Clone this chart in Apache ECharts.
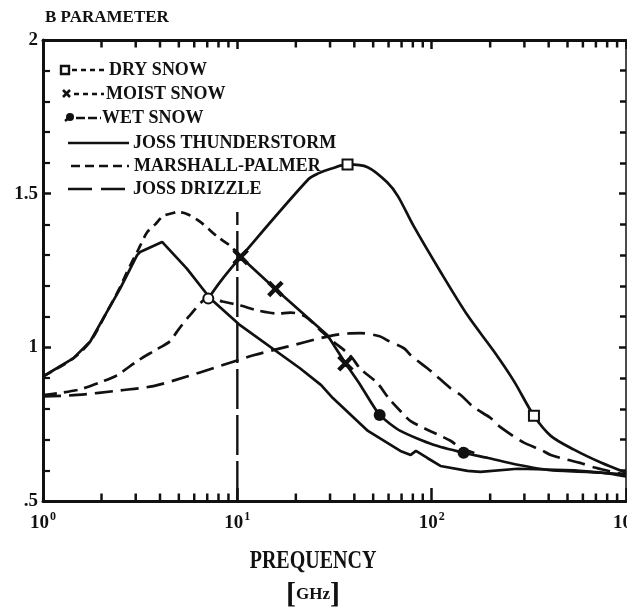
<!DOCTYPE html>
<html>
<head>
<meta charset="utf-8">
<script src="https://cdn.jsdelivr.net/npm/echarts@6/dist/echarts.min.js"></script>
<style>
html,body{margin:0;padding:0;background:#ffffff;}
#chart{width:627px;height:611px;}
</style>
</head>
<body>
<div id="chart"></div>
<script>
// ---------- data ----------
const jtF = [1, 1.43, 1.75, 2.14, 2.49, 3.05, 3.16, 4.1, 5.5, 7.26, 10.2, 21, 27, 31, 47, 69, 78, 83, 95, 111, 153, 178, 277, 540, 1000];
const jtV = [0.905, 0.964, 1.019, 1.117, 1.19, 1.30, 1.31, 1.343, 1.256, 1.159, 1.075, 0.932, 0.877, 0.835, 0.728, 0.663, 0.65, 0.663, 0.64, 0.614, 0.598, 0.595, 0.605, 0.60, 0.586];

const mpF = [1, 1.43, 1.75, 2.14, 2.49, 2.65, 2.87, 3.05, 3.16, 3.44, 3.78, 4.15, 4.67, 4.9, 5.5, 6.45, 7.9, 9.2, 10.4];
const mpV = [0.905, 0.964, 1.019, 1.117, 1.195, 1.233, 1.278, 1.31, 1.33, 1.375, 1.40, 1.427, 1.437, 1.44, 1.434, 1.408, 1.36, 1.33, 1.294];

const jdF = [1, 1.5, 2.5, 3.7, 5.5, 7.5, 12.1, 18.3, 26.8, 31, 37, 43, 54, 59, 72, 78, 95, 102, 125, 141, 164, 201, 218, 262, 298, 364, 410, 500, 580, 680, 840, 1000];
const jdV = [0.84, 0.845, 0.86, 0.874, 0.905, 0.932, 0.974, 1.003, 1.03, 1.039, 1.045, 1.046, 1.036, 1.023, 0.997, 0.974, 0.932, 0.916, 0.867, 0.845, 0.806, 0.77, 0.748, 0.712, 0.69, 0.667, 0.65, 0.634, 0.624, 0.61, 0.596, 0.585];

const riseF = [1, 1.5, 2.04, 2.4, 3.05, 3.69, 4.51, 4.9, 5.7, 7.09, 8.4, 10.4, 12.7, 16.1, 18.8, 22.4, 26.8, 31, 38, 43, 52.5, 60, 69, 78, 98, 125, 141, 178];
const riseV = [0.845, 0.861, 0.89, 0.909, 0.955, 0.987, 1.02, 1.052, 1.104, 1.159, 1.149, 1.136, 1.12, 1.11, 1.113, 1.10, 1.055, 1.02, 0.974, 0.93, 0.884, 0.835, 0.793, 0.76, 0.728, 0.696, 0.673, 0.65];

const dryF = [7.09, 8.18, 10.4, 23.2, 26.1, 30, 36.9, 46.8, 59, 67, 80.7, 111, 153, 209, 265, 336, 410, 540, 742, 1000];
const dryV = [1.159, 1.214, 1.294, 1.547, 1.566, 1.58, 1.595, 1.586, 1.537, 1.492, 1.395, 1.246, 1.104, 0.987, 0.89, 0.777, 0.712, 0.667, 0.625, 0.592];

const moistF = [10.4, 15.7, 29.1, 36];
const moistV = [1.294, 1.19, 1.039, 0.948];

const wetF = [36, 43, 54, 69, 102, 146, 195, 277, 410, 745, 1000];
const wetV = [0.948, 0.877, 0.78, 0.728, 0.683, 0.657, 0.64, 0.618, 0.60, 0.592, 0.58];

const dryMarkF = [36.9, 336];
const dryMarkV = [1.595, 0.777];
const moistMarkF = [10.4, 15.7, 36];
const moistMarkV = [1.294, 1.19, 0.948];
const wetMarkF = [7.09, 54, 146];
const wetMarkV = [1.159, 0.78, 0.657];

const refLineF = [10, 10];
const refLineV = [0.5, 1.44];

const minorTickF = [2,3,4,5,6,7,8,9,20,30,40,50,60,70,80,90,200,300,400,500,600,700,800,900];

const yTickVals = [0.5, 1, 1.5, 2];
const yTickText = ['.5', '1', '1.5', '2'];
const xTickVals = [1, 10, 100, 1000];
const xTickExp = ['0', '1', '2', '3'];

const legendNames = ['DRY SNOW', 'MOIST SNOW', 'WET SNOW', 'JOSS THUNDERSTORM', 'MARSHALL-PALMER', 'JOSS DRIZZLE'];

// ---------- build ----------
const FONT = '"Liberation Serif", "DejaVu Serif", serif';
const INK = '#111';
const pairs = (f, v) => f.map((x, i) => [x, v[i]]);

const lineSeries = (name, f, v, type, smooth) => ({
  name, type: 'line', data: pairs(f, v), showSymbol: false, symbol: 'none',
  smooth: smooth, z: 3,
  lineStyle: { color: INK, width: 2.7, type: type, cap: 'butt' }
});

const X_PATH = 'path://M1,0L5,4L9,0L10,1L6,5L10,9L9,10L5,6L1,10L0,9L4,5L0,1Z';

const chart = echarts.init(document.getElementById('chart'), null, { renderer: 'canvas' });

const option = {
  animation: false,
  backgroundColor: '#ffffff',
  grid: { left: 43, right: 1, top: 40, bottom: 110, containLabel: false, outerBoundsMode: 'none' },
  xAxis: [
    {
      type: 'log', logBase: 10, min: 1, max: 1000, position: 'bottom',
      axisLine: { show: true, onZero: false, lineStyle: { color: INK, width: 3 } },
      axisTick: { show: true, inside: true, length: 13, lineStyle: { color: INK, width: 2.5 } },
      splitLine: { show: false },
      axisLabel: {
        margin: 10, color: INK, hideOverlap: false,
        formatter: function (val) {
          const i = xTickVals.findIndex(t => Math.abs(t - val) / t < 1e-6);
          return i < 0 ? '' : '{b|10}{s|' + xTickExp[i] + '}';
        },
        rich: {
          b: { fontFamily: FONT, fontWeight: 'bold', fontSize: 19, color: INK },
          s: { fontFamily: FONT, fontWeight: 'bold', fontSize: 12, color: INK, padding: [0, 0, 12, 1] }
        }
      }
    },
    {
      type: 'log', logBase: 10, min: 1, max: 1000, position: 'top',
      axisLine: { show: true, onZero: false, lineStyle: { color: INK, width: 3 } },
      axisTick: { show: true, inside: true, length: 9, lineStyle: { color: INK, width: 2.5 } },
      axisLabel: { show: false }, splitLine: { show: false }
    }
  ],
  yAxis: [
    {
      type: 'value', min: 0.5, max: 2, interval: 0.5, position: 'left',
      axisLine: { show: true, onZero: false, lineStyle: { color: INK, width: 3 } },
      axisTick: { show: true, inside: true, length: 8, lineStyle: { color: INK, width: 2.5 } },
      minorTick: { show: true, splitNumber: 5, length: 7, lineStyle: { color: INK, width: 2.2 } },
      splitLine: { show: false },
      axisLabel: {
        margin: 5, color: INK, fontFamily: FONT, fontWeight: 'bold', fontSize: 19,
        formatter: function (val) {
          const i = yTickVals.findIndex(t => Math.abs(t - val) < 1e-6);
          return i < 0 ? '' : yTickText[i];
        }
      }
    },
    {
      type: 'value', min: 0.5, max: 2, interval: 0.5, position: 'right',
      axisLine: { show: true, onZero: false, lineStyle: { color: INK, width: 1.5 } },
      axisTick: { show: true, inside: true, length: 7, lineStyle: { color: INK, width: 2.5 } },
      minorTick: { show: true, splitNumber: 5, length: 6, lineStyle: { color: INK, width: 2.5 } },
      splitLine: { show: false }, axisLabel: { show: false }
    }
  ],
  series: [
    lineSeries(legendNames[3], jtF, jtV, 'solid', false),
    lineSeries(legendNames[4], mpF, mpV, [10, 6], 0.3),
    lineSeries(legendNames[5], jdF, jdV, [18, 8], 0.3),
    lineSeries('RAIN (B)', riseF, riseV, [14, 7], 0.3),
    lineSeries(legendNames[0], dryF, dryV, 'solid', 0.3),
    lineSeries(legendNames[1], moistF, moistV, 'solid', false),
    lineSeries(legendNames[2], wetF, wetV, 'solid', 0.2),
    {
      name: '10 GHz', type: 'line', data: pairs(refLineF, refLineV), showSymbol: false, symbol: 'none', z: 2,
      lineStyle: { color: INK, width: 2.4, type: [40, 6] }
    },
    {
      name: 'DRY SNOW markers', type: 'scatter', data: pairs(dryMarkF, dryMarkV), z: 5,
      symbol: 'emptyRect', symbolSize: 10,
      itemStyle: { color: INK, borderColor: INK, borderWidth: 2.8, opacity: 1 },
      emphasis: { disabled: true }
    },
    {
      name: 'MOIST SNOW markers', type: 'scatter', data: pairs(moistMarkF, moistMarkV), z: 5,
      symbol: X_PATH, symbolSize: 13,
      itemStyle: { color: INK, borderColor: INK, borderWidth: 2.5, opacity: 1 },
      emphasis: { disabled: true }
    },
    {
      name: 'WET SNOW markers', type: 'scatter', z: 5,
      data: pairs(wetMarkF, wetMarkV).map((p, i) => i === 0
        ? { value: p, symbol: 'emptyCircle', symbolSize: 10, itemStyle: { color: INK, borderColor: INK, borderWidth: 2.6 } }
        : { value: p }),
      symbol: 'circle', symbolSize: 12,
      itemStyle: { color: INK, opacity: 1 },
      emphasis: { disabled: true }
    },
    {
      name: 'bottom minor ticks', type: 'scatter', clip: false, silent: true, z: 4,
      data: minorTickF.map(f => [f, 0.5]),
      symbol: 'rect', symbolSize: [2.5, 7], symbolOffset: [0, -4],
      itemStyle: { color: INK, opacity: 1 }
    },
    {
      name: 'top minor ticks', type: 'scatter', clip: false, silent: true, z: 4,
      data: minorTickF.map(f => [f, 2]),
      symbol: 'rect', symbolSize: [2.5, 7], symbolOffset: [0, 4],
      itemStyle: { color: INK, opacity: 1 }
    }
  ],
  graphic: [
    // title
    { type: 'text', left: 45, top: 9, style: { text: 'B PARAMETER', fontFamily: FONT, fontWeight: 'bold', fontSize: 17, fill: INK } },
    // legend row 1: dry snow
    { type: 'rect', shape: { x: 61, y: 66, width: 8, height: 8 }, style: { fill: '#fff', stroke: INK, lineWidth: 2.4 } },
    { type: 'line', shape: { x1: 72, y1: 70, x2: 104, y2: 70 }, style: { stroke: INK, lineWidth: 2.6, lineDash: [5, 4] } },
    { type: 'text', x: 109, y: 70, style: { text: legendNames[0], fontFamily: FONT, fontWeight: 'bold', fontSize: 18, fill: INK, textVerticalAlign: 'middle' } },
    // row 2: moist snow
    { type: 'line', shape: { x1: 63, y1: 90, x2: 70, y2: 97 }, style: { stroke: INK, lineWidth: 2.6 } },
    { type: 'line', shape: { x1: 70, y1: 90, x2: 63, y2: 97 }, style: { stroke: INK, lineWidth: 2.6 } },
    { type: 'line', shape: { x1: 74, y1: 94, x2: 104, y2: 94 }, style: { stroke: INK, lineWidth: 2.6, lineDash: [5, 4] } },
    { type: 'text', x: 106, y: 94, style: { text: legendNames[1], fontFamily: FONT, fontWeight: 'bold', fontSize: 18, fill: INK, textVerticalAlign: 'middle' } },
    // row 3: wet snow
    { type: 'circle', shape: { cx: 70, cy: 117, r: 4 }, style: { fill: INK } },
    { type: 'line', shape: { x1: 65, y1: 121, x2: 71, y2: 116 }, style: { stroke: INK, lineWidth: 2.6 } },
    { type: 'line', shape: { x1: 76, y1: 118, x2: 101, y2: 118 }, style: { stroke: INK, lineWidth: 2.6, lineDash: [9, 3] } },
    { type: 'text', x: 102, y: 118, style: { text: legendNames[2], fontFamily: FONT, fontWeight: 'bold', fontSize: 18, fill: INK, textVerticalAlign: 'middle' } },
    // row 4: joss thunderstorm (solid)
    { type: 'line', shape: { x1: 68, y1: 143, x2: 129, y2: 143 }, style: { stroke: INK, lineWidth: 2.7 } },
    { type: 'text', x: 133, y: 143, style: { text: legendNames[3], fontFamily: FONT, fontWeight: 'bold', fontSize: 18, fill: INK, textVerticalAlign: 'middle' } },
    // row 5: marshall-palmer (short dashes)
    { type: 'line', shape: { x1: 71, y1: 166, x2: 129, y2: 166 }, style: { stroke: INK, lineWidth: 2.7, lineDash: [9, 5] } },
    { type: 'text', x: 134, y: 166, style: { text: legendNames[4], fontFamily: FONT, fontWeight: 'bold', fontSize: 18, fill: INK, textVerticalAlign: 'middle' } },
    // row 6: joss drizzle (long dashes)
    { type: 'line', shape: { x1: 68, y1: 189, x2: 126, y2: 189 }, style: { stroke: INK, lineWidth: 2.7, lineDash: [24, 9] } },
    { type: 'text', x: 133, y: 189, style: { text: legendNames[5], fontFamily: FONT, fontWeight: 'bold', fontSize: 18, fill: INK, textVerticalAlign: 'middle' } },
    // x-axis name and unit
    { type: 'text', x: 313, y: 562, scaleY: 1.25, style: { text: 'PREQUENCY', fontFamily: FONT, fontWeight: 'bold', fontSize: 20, fill: INK, textAlign: 'center', textVerticalAlign: 'middle' } },
    { type: 'text', x: 313, y: 595, style: {
        text: '{br|[}{u|GHz}{br|]}', textAlign: 'center', textVerticalAlign: 'middle',
        rich: {
          br: { fontFamily: FONT, fontSize: 30, fontWeight: 'bold', fill: INK, color: INK },
          u: { fontFamily: FONT, fontSize: 17, fontWeight: 'bold', fill: INK, color: INK }
        }
      } }
  ]
};

chart.setOption(option);
</script>
</body>
</html>
